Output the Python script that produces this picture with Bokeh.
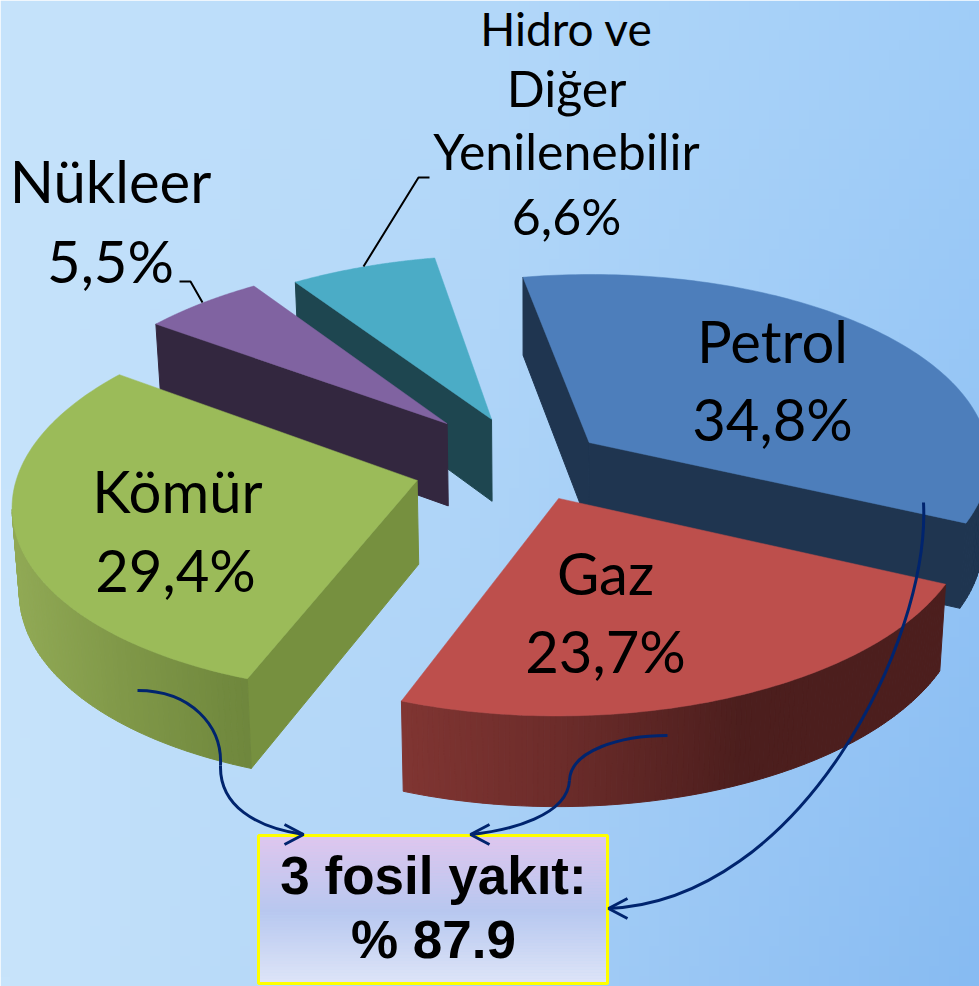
import numpy as np
from bokeh.plotting import figure
from bokeh.models import Range1d
from bokeh.core.properties import value
from bokeh.embed import file_html
from bokeh.resources import INLINE

# ---- data ----
labels = ["Petrol", "Gaz", "Kömür", "Nükleer", "Hidro ve Diğer Yenilenebilir"]
shares = [34.8, 23.7, 29.4, 5.5, 6.6]
share_text = ["34,8%", "23,7%", "29,4%", "5,5%", "6,6%"]
explode = [0.18868, 0.19277, 0.29035, 0.30666, 0.2643]
top_colors = ["#4d7ebb", "#bd4f4c", "#9bbb59", "#8063a1", "#4bacc6"]
cut_colors = ["#1f3550", "#4c1e1d", "#76903f", "#33273f", "#1e4650"]
# wall shading: (screen x, rgb) stops
wall_stops = [
    [(0, (31, 53, 80)), (979, (31, 53, 80))],
    [(402, (128, 53, 50)), (560, (108, 44, 42)), (740, (76, 30, 29)), (979, (76, 30, 29))],
    [(10, (145, 170, 85)), (120, (128, 152, 72)), (250, (110, 134, 60)), (979, (110, 134, 60))],
    [(0, (51, 39, 63)), (979, (51, 39, 63))],
    [(0, (30, 70, 80)), (979, (30, 70, 80))],
]
draw_order = [4, 3, 2, 0, 1]
box_title = ["3 fosil yakıt:", "% 87.9"]

# ---- projection of the tilted disc ----
CAM = [401.68259, -21.36486, 529.04647, -15.22878, 141.9513, 463.71659, 4.89204, -99.03503]
T0 = -0.09194
W, H = 979, 986
frac = np.array(shares) / sum(shares)
cum = np.concatenate([[0], np.cumsum(frac)]) * 2 * np.pi


def proj(u, v):
    a, b, c, d, e, f, g, h = CAM
    w = g * u / 1000 + h * v / 1000 + 1
    return (a * u + b * v + c) / w, (d * u + e * v + f) / w


def drop(x, y):
    return 530 + (x - 530) * 0.986, y + 78 + 0.029 * (y - 278)


def flip(y):
    return 986 - np.asarray(y, float)


def shade(stops, x):
    xs = [s[0] for s in stops]
    return "#%02x%02x%02x" % tuple(int(round(np.interp(x, xs, [s[1][k] for s in stops]))) for k in range(3))


p = figure(width=W, height=H, x_range=Range1d(0, 979), y_range=Range1d(0, 986),
           x_axis_type=None, y_axis_type=None, toolbar_location=None,
           output_backend="svg", min_border=0, outline_line_color=None)
p.grid.visible = False

# ---- background ----
nx, ny = 98, 99
gx = np.linspace(0, 1, nx)
gy = np.linspace(0, 1, ny)   # 0 = bottom
TL, TR, BL, BR = map(np.array, [(198, 227, 251), (160, 205, 248), (200, 228, 251), (135, 187, 242)])
img = np.zeros((ny, nx), dtype=np.uint32)
view = img.view(dtype=np.uint8).reshape((ny, nx, 4))
for j in range(ny):
    for i in range(nx):
        c = (BL * (1 - gx[i]) + BR * gx[i]) * (1 - gy[j]) + (TL * (1 - gx[i]) + TR * gx[i]) * gy[j]
        view[j, i] = (int(c[0]), int(c[1]), int(c[2]), 255)
p.image_rgba(image=[img], x=0, y=0, dw=979, dh=986)

# ---- slices ----
for i in draw_order:
    mid = T0 + (cum[i] + cum[i + 1]) / 2
    ou, ov = explode[i] * np.sin(mid), -explode[i] * np.cos(mid)
    ax, ay = proj(ou, ov)
    ph = np.linspace(T0 + cum[i], T0 + cum[i + 1], 120)
    tx, ty = proj(ou + np.sin(ph), ov - np.cos(ph))
    bx, by = drop(tx, ty)
    bax, bay = drop(ax, ay)
    quads = []
    # only faces turned to the viewer: the outline runs clockwise, so they run leftwards
    if tx[0] < ax:
        quads.append(([ax, tx[0], bx[0], bax], [ay, ty[0], by[0], bay], cut_colors[i]))
    if ax < tx[-1]:
        quads.append(([ax, tx[-1], bx[-1], bax], [ay, ty[-1], by[-1], bay], cut_colors[i]))
    for k in range(len(ph) - 1):
        if tx[k + 1] < tx[k]:
            quads.append(([tx[k], tx[k + 1], bx[k + 1], bx[k]], [ty[k], ty[k + 1], by[k + 1], by[k]],
                          shade(wall_stops[i], (tx[k] + tx[k + 1]) / 2)))
    quads.sort(key=lambda q: np.mean(q[1]))
    p.patches([list(q[0]) for q in quads], [list(flip(q[1])) for q in quads],
              fill_color=[q[2] for q in quads], line_color=[q[2] for q in quads], line_width=1)
    p.patch(list(np.r_[ax, tx]), list(flip(np.r_[ay, ty])), fill_color=top_colors[i],
            line_color=top_colors[i], line_width=0.5)

# ---- leader lines ----
p.multi_line([[429, 418, 363], [179, 190, 202]], [list(flip([177, 177, 266])), list(flip([281, 281, 302]))],
             line_color="black", line_width=2)


# ---- callout box ----
bands = np.arange(834, 983, 3)
def box_col(y):
    ys, cs = [834, 910, 983], [(224, 198, 238), (184, 200, 240), (224, 230, 248)]
    return "#%02x%02x%02x" % tuple(int(np.interp(y, ys, [c[k] for c in cs])) for k in range(3))
p.quad(left=258, right=607, top=list(flip(bands)), bottom=list(flip(bands + 3)),
       fill_color=[box_col(y) for y in bands], line_color=[box_col(y) for y in bands], line_width=0.5)
p.quad(left=258, right=607, top=flip(835), bottom=flip(983), fill_color=None, line_color="#ffff00", line_width=3)

# ---- arrows ----
NAVY = "#00246e"
curves = [
    (137, 690, 190, 690, 222, 725, 220, 765),
    (220, 765, 219, 805, 255, 827, 303, 834),
    (667, 735, 620, 735, 570, 750, 569, 780),
    (569, 780, 567, 815, 510, 830, 470, 834),
    (923, 502, 930, 640, 800, 900, 608, 908),
]
for c in curves:
    p.bezier(x0=[c[0]], y0=flip([c[1]]), cx0=[c[2]], cy0=flip([c[3]]), cx1=[c[4]], cy1=flip([c[5]]),
             x1=[c[6]], y1=flip([c[7]]), line_color=NAVY, line_width=3)
heads = [(303, 834, -1), (470, 834, 1), (608, 908, 1)]
p.multi_line([[t[0] + t[2] * 19, t[0], t[0] + t[2] * 19] for t in heads],
             [list(flip([t[1] - 10, t[1], t[1] + 10])) for t in heads], line_color=NAVY, line_width=3)


# ---- text ----
def txt(x, y, s, size, font="Lato", style="normal"):
    p.text([x], flip([y - 0.39 * size]), text=[s], text_font=value(font), text_font_size=f"{size}px",
           text_color="black", text_align="center", text_baseline="alphabetic", text_font_style=style)


txt(772, 363, labels[0], 58); txt(772, 441, share_text[0], 58)
txt(605, 595, labels[1], 58); txt(605, 673, share_text[1], 58)
txt(177, 513, labels[2], 58); txt(175, 592, share_text[2], 58)
txt(110, 203, labels[3], 58); txt(110, 283, share_text[3], 58)
txt(566, 46, "Hidro ve", 46)
for y, s in zip([107, 170, 235], ["Diğer", "Yenilenebilir", share_text[4]]):
    txt(566, y, s, 50)
txt(433, 896, box_title[0], 53, "Liberation Sans", "bold")
txt(433, 960, box_title[1], 53, "Liberation Sans", "bold")

open("out.html", "w").write(file_html(p, INLINE))
